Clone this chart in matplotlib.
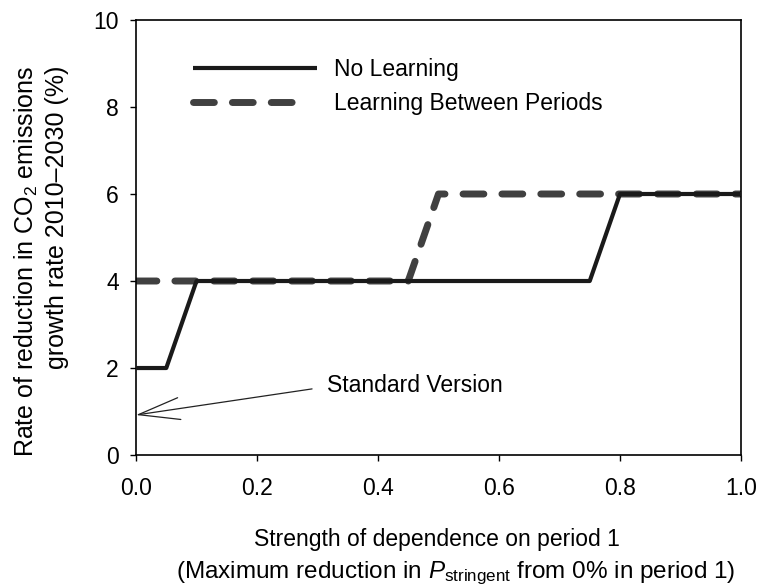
import matplotlib
matplotlib.use("Agg")
import matplotlib.pyplot as plt
from matplotlib.legend_handler import HandlerLine2D

plt.rcParams['font.family'] = ['Liberation Sans', 'DejaVu Sans']
plt.rcParams['mathtext.fontset'] = 'custom'
plt.rcParams['mathtext.rm'] = 'Liberation Sans'
plt.rcParams['mathtext.it'] = 'Liberation Sans:italic'

# Data
no_learning_x = [0.0, 0.05, 0.10, 0.75, 0.80, 1.0]
no_learning_y = [2, 2, 4, 4, 6, 6]
learning_x = [0.0, 0.45, 0.50, 1.0]
learning_y = [4, 4, 6, 6]
x_ticks = [0.0, 0.2, 0.4, 0.6, 0.8, 1.0]
y_ticks = [0, 2, 4, 6, 8, 10]
standard_point = (0.0, 0.92)
standard_label = "Standard Version"
xlabel_line1 = "Strength of dependence on period 1"
xlabel_line2 = "(Maximum reduction in $\\mathit{P}_{\\rm stringent}$ from 0% in period 1)"
ylabel_text = "Rate of reduction in CO$_2$ emissions\ngrowth rate 2010\u20132030 (%)"

FS = 16.5


class ShortHandler(HandlerLine2D):
    def __init__(self, frac, **kw):
        super().__init__(**kw)
        self.frac = frac

    def create_artists(self, legend, orig_handle, xdescent, ydescent, width, height, fontsize, trans):
        return super().create_artists(legend, orig_handle, xdescent, ydescent,
                                      width * self.frac, height, fontsize, trans)


fig = plt.figure(figsize=(7.62, 5.86), dpi=100)
ax = fig.add_axes([0.1785, 0.2235, 0.7939, 0.7424])

dashed, = ax.plot(learning_x, learning_y, color='#404040', lw=5, linestyle=(0, (3.0, 2.6)),
                  dash_capstyle='round', solid_capstyle='round', label='Learning Between Periods', zorder=2)
solid, = ax.plot(no_learning_x, no_learning_y, color='#1a1a1a', lw=3, solid_capstyle='butt',
                 label='No Learning', zorder=3)

ax.set_xlim(0, 1.0)
ax.set_ylim(0, 10)
ax.set_xticks(x_ticks)
ax.set_xticklabels([f"{v:.1f}" for v in x_ticks])
ax.set_yticks(y_ticks)
ax.tick_params(axis='both', direction='out', length=4.5, width=1, labelsize=FS)
ax.tick_params(axis='x', pad=11)
ax.tick_params(axis='y', pad=8)
for s in ax.spines.values():
    s.set_linewidth(1.2)

# x label (two lines)
fig.text(0.5735, 0.0675, xlabel_line1, fontsize=16.5, ha='center', va='baseline')
fig.text(0.5985, 0.0135, xlabel_line2, fontsize=17.5, ha='center', va='baseline')

ax.set_ylabel(ylabel_text, fontsize=18, linespacing=1.3, multialignment='right')
ax.yaxis.set_label_coords(-0.11, 0.446)

leg = ax.legend([solid, dashed], ['No Learning', 'Learning Between Periods'],
                loc='upper left', bbox_to_anchor=(0.095, 0.912),
                frameon=False, fontsize=FS, handlelength=5.4, handletextpad=0.74,
                labelspacing=0.48, borderpad=0, borderaxespad=0,
                handler_map={dashed: ShortHandler(0.84)})

ax.annotate('', xy=standard_point, xytext=(0.291, 1.52),
            arrowprops=dict(arrowstyle='->,head_length=1.8,head_width=0.48', lw=0.9,
                            color='#222222', shrinkA=0, shrinkB=0, mutation_scale=FS))
ax.text(0.316, 1.59, standard_label, fontsize=FS, va='center', ha='left')

fig.savefig("out.png", dpi=100)
